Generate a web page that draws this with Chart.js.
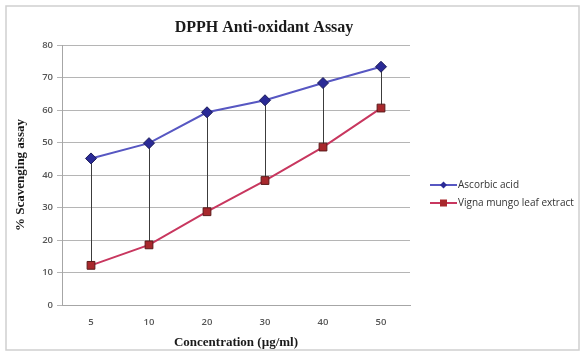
<!DOCTYPE html>
<html>
<head>
<meta charset="utf-8">
<title>DPPH Anti-oxidant Assay</title>
<script src="https://cdn.jsdelivr.net/npm/chart.js@4/dist/chart.umd.min.js"></script>
<style>
  html, body { margin: 0; padding: 0; background: #ffffff; }
  #wrap { width: 581px; height: 354px; position: relative; }
  canvas { display: block; }
</style>
</head>
<body>
<div id="wrap"><canvas id="c" width="581" height="354"></canvas></div>
<script>
// Concentrations tested (µg/ml)
const concentrations = ['5', '10', '20', '30', '40', '50'];
// % scavenging of DPPH radical
const ascorbicAcid = [45.1, 49.8, 59.3, 63.0, 68.3, 73.3];
const vignaMungo = [12.2, 18.5, 28.7, 38.3, 48.6, 60.6];
// Y axis range and step
const yMin = 0, yMax = 80, yStep = 10;

const chartTitle = 'DPPH Anti-oxidant Assay';
const seriesNames = ['Ascorbic acid', 'Vigna mungo leaf extract'];

const blueLine = '#5757c2', blueMark = '#2a2a96';
const redLine = '#c8375f', redMark = '#a8282c';

// Frame around the whole chart
const framePlugin = {
  id: 'frame',
  beforeDraw(chart) {
    const ctx = chart.ctx;
    ctx.save();
    ctx.fillStyle = '#ffffff';
    ctx.fillRect(0, 0, chart.width, chart.height);
    ctx.strokeStyle = '#cfcfcf';
    ctx.lineWidth = 1.5;
    ctx.strokeRect(6, 6, 573, 344);
    ctx.restore();
  }
};

// Vertical drop lines joining the two series at each concentration
const dropLines = {
  id: 'dropLines',
  beforeDatasetsDraw(chart) {
    const a = chart.getDatasetMeta(0).data;
    const b = chart.getDatasetMeta(1).data;
    const ctx = chart.ctx;
    ctx.save();
    ctx.strokeStyle = '#3c3c3c';
    ctx.lineWidth = 1;
    for (let i = 0; i < a.length; i++) {
      const x = Math.round(a[i].x) + 0.5;
      ctx.beginPath();
      ctx.moveTo(x, a[i].y);
      ctx.lineTo(x, b[i].y);
      ctx.stroke();
    }
    ctx.restore();
  }
};

// Chart heading
const headingPlugin = {
  id: 'heading',
  afterDraw(chart) {
    const ctx = chart.ctx;
    ctx.save();
    ctx.font = 'bold 16px "Liberation Serif", "DejaVu Serif", serif';
    ctx.fillStyle = '#1a1a1a';
    ctx.textAlign = 'center';
    ctx.textBaseline = 'middle';
    ctx.fillText(chartTitle, 264, 28);
    ctx.restore();
  }
};

// Legend with line-and-marker keys
const sideLegend = {
  id: 'sideLegend',
  afterDraw(chart) {
    const ctx = chart.ctx;
    const x0 = 430, x1 = 457, rows = [185, 203];
    ctx.save();
    chart.data.datasets.forEach((ds, i) => {
      const y = rows[i];
      ctx.strokeStyle = ds.borderColor;
      ctx.lineWidth = 2;
      ctx.beginPath();
      ctx.moveTo(x0, y);
      ctx.lineTo(x1, y);
      ctx.stroke();
      ctx.fillStyle = ds.pointBackgroundColor;
      const cx = (x0 + x1) / 2;
      if (ds.pointStyle === 'rectRot') {
        ctx.beginPath();
        ctx.moveTo(cx, y - 3.5);
        ctx.lineTo(cx + 3.5, y);
        ctx.lineTo(cx, y + 3.5);
        ctx.lineTo(cx - 3.5, y);
        ctx.closePath();
        ctx.fill();
      } else {
        ctx.fillRect(cx - 3.5, y - 3.5, 7, 7);
      }
      ctx.fillStyle = '#333333';
      ctx.font = '10px "Open Sans", "Liberation Sans", sans-serif';
      ctx.textAlign = 'left';
      ctx.textBaseline = 'middle';
      ctx.fillText(ds.label, x1 + 1, y);
    });
    ctx.restore();
  }
};

const tickFont = { family: '"Open Sans", "Liberation Sans", sans-serif', size: 9.5, weight: '600' };
const axisTitleFont = { family: '"Liberation Serif", "DejaVu Serif", serif', size: 13, weight: 'bold' };

new Chart(document.getElementById('c'), {
  type: 'line',
  data: {
    labels: concentrations,
    datasets: [
      {
        label: seriesNames[0],
        data: ascorbicAcid,
        borderColor: blueLine,
        borderWidth: 2,
        pointStyle: 'rectRot',
        pointRadius: 5.5,
        pointBackgroundColor: blueMark,
        pointBorderColor: '#1c1c5a',
        pointBorderWidth: 1,
        tension: 0
      },
      {
        label: seriesNames[1],
        data: vignaMungo,
        borderColor: redLine,
        borderWidth: 2,
        pointStyle: 'rect',
        pointRadius: 5.5,
        pointBackgroundColor: redMark,
        pointBorderColor: '#5a1a1a',
        pointBorderWidth: 1,
        tension: 0
      }
    ]
  },
  options: {
    responsive: false,
    animation: false,
    layout: { padding: { top: 45, right: 171, bottom: 0, left: 0 } },
    plugins: {
      legend: { display: false },
      title: { display: false },
      tooltip: { enabled: false }
    },
    scales: {
      x: {
        offset: true,
        grid: { display: false, drawTicks: false },
        border: { display: true, color: '#a6a6a6', width: 1 },
        ticks: { color: '#555555', font: tickFont, padding: 12, maxRotation: 0 },
        title: { display: true, text: 'Concentration (µg/ml)', color: '#1a1a1a', font: axisTitleFont, padding: { top: 3 } },
        afterFit(s) { s.height = 49; }
      },
      y: {
        min: yMin,
        max: yMax,
        grid: { color: '#b5b5b5', lineWidth: 1, tickLength: 5, drawTicks: true },
        border: { display: true, color: '#a6a6a6', width: 1 },
        ticks: { stepSize: yStep, color: '#555555', font: tickFont, padding: 4 },
        title: { display: true, text: '% Scavenging assay', color: '#1a1a1a', font: axisTitleFont, padding: { top: 13 } },
        afterFit(s) { s.width = 62; }
      }
    }
  },
  plugins: [framePlugin, dropLines, headingPlugin, sideLegend]
});
</script>
</body>
</html>
